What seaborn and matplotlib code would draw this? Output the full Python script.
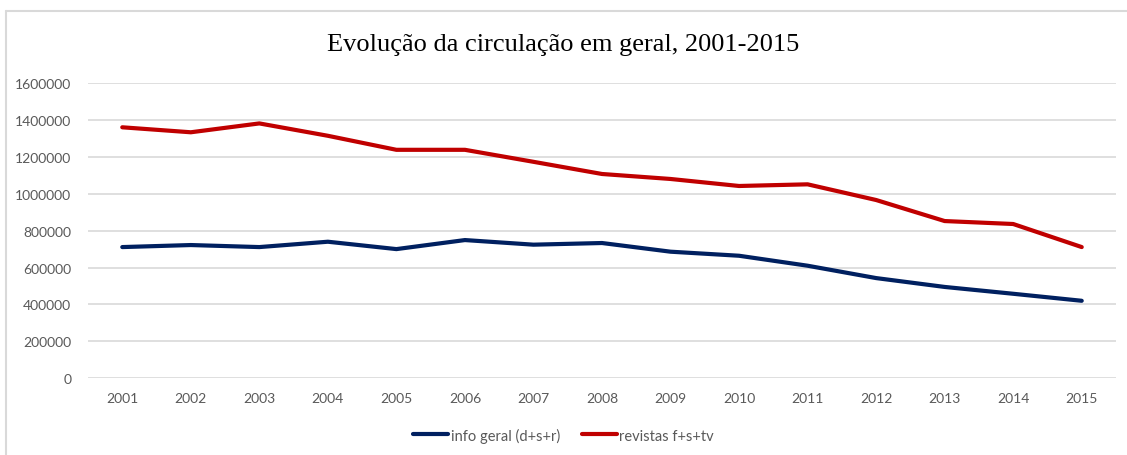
import matplotlib
matplotlib.use("Agg")
import matplotlib.pyplot as plt
from matplotlib.lines import Line2D
import seaborn as sns
import pandas as pd

years = [2001, 2002, 2003, 2004, 2005, 2006, 2007, 2008, 2009, 2010, 2011, 2012, 2013, 2014, 2015]
info_geral = [711000, 722000, 711000, 740000, 700000, 749000, 724000, 733000, 686000, 664000,
              610000, 543000, 495000, 458000, 420000]
revistas = [1360000, 1333000, 1381000, 1314000, 1238000, 1238000, 1173000, 1107000, 1080000, 1042000,
            1051000, 966000, 852000, 836000, 711000]
series_names = ["info geral (d+s+r)", "revistas f+s+tv"]
y_ticks = [0, 200000, 400000, 600000, 800000, 1000000, 1200000, 1400000, 1600000]

df = pd.DataFrame({
    "ano": years * 2,
    "circulacao": info_geral + revistas,
    "serie": [series_names[0]] * len(years) + [series_names[1]] * len(years),
})

sns.set_theme(style="white")
plt.rcParams["font.family"] = ["Lato", "DejaVu Sans"]

W, H = 1127, 456
fig = plt.figure(figsize=(W / 100, H / 100), dpi=100)
ax = fig.add_axes([88 / W, 1 - 379.3 / H, (1116 - 88) / W, (379.3 - 84) / H])

palette = {series_names[0]: "#002060", series_names[1]: "#C00000"}
sns.lineplot(data=df, x="ano", y="circulacao", hue="serie", palette=palette,
             linewidth=3, ax=ax, legend=False)

ax.set_xlim(years[0] - 0.5, years[-1] + 0.5)
ax.set_ylim(0, 1600000)
ax.set_xticks(years)
ax.set_xticklabels([str(y) for y in years])
ax.set_yticks(y_ticks)
ax.set_yticklabels([str(v) for v in y_ticks])
ax.tick_params(axis="both", length=0, labelsize=10, labelcolor="#595959")
ax.tick_params(axis="x", pad=10)
ax.tick_params(axis="y", pad=12)
ax.set_xlabel("")
ax.set_ylabel("")
ax.yaxis.grid(True, color="#d9d9d9", linewidth=1.2)
ax.xaxis.grid(False)
for s in ax.spines.values():
    s.set_visible(False)
ax.set_axisbelow(True)

fig.text(0.5, 1 - 45 / H, "Evolução da circulação em geral, 2001-2015",
         ha="center", va="center", fontsize=19, family="Liberation Serif", color="#000000")

handles = [Line2D([0], [0], color=palette[n], linewidth=3) for n in series_names]
fig.legend(handles, series_names, loc="center", bbox_to_anchor=(0.5, 1 - 436 / H),
           ncol=2, frameon=False, fontsize=10.5, labelcolor="#595959",
           handlelength=2.4, handletextpad=0.15, columnspacing=1.5)

# outer chart frame (top and left edges)
fig.add_artist(Line2D([6 / W, 1.0], [1 - 12 / H, 1 - 12 / H], color="#d9d9d9", linewidth=1.5))
fig.add_artist(Line2D([6 / W, 6 / W], [0.0, 1 - 12 / H], color="#d9d9d9", linewidth=1.5))

fig.savefig("out.png", dpi=100, facecolor="white")
